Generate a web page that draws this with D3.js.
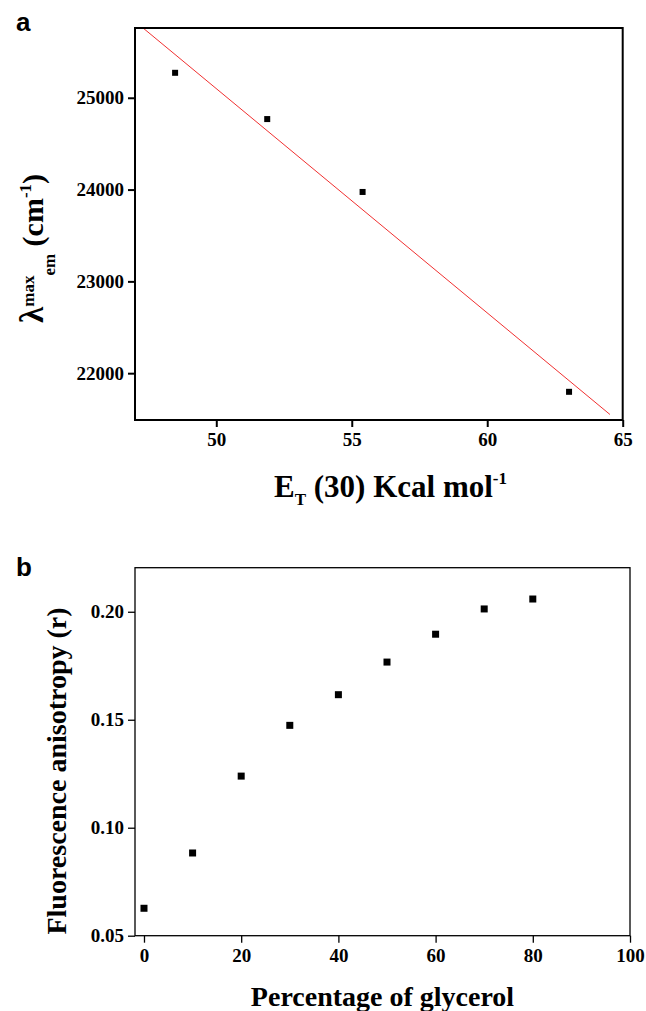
<!DOCTYPE html>
<html>
<head>
<meta charset="utf-8">
<script src="https://cdnjs.cloudflare.com/ajax/libs/d3/7.8.5/d3.min.js"></script>
<style>
  body { margin: 0; background: #fff; }
  svg text { font-family: "Liberation Serif", "Times New Roman", serif; font-weight: bold; fill: #000; }
  svg text.panel { font-family: "Liberation Sans", Arial, sans-serif; }
</style>
</head>
<body>
<svg id="chart" width="646" height="1011"></svg>
<script>
// panel a: emission maximum vs solvent polarity
const etValues = [48.48, 51.88, 55.4, 63.02];
const emMax = [25272, 24768, 23974, 21797];
const aXTicks = [50, 55, 60, 65];
const aYTicks = [22000, 23000, 24000, 25000];
const aXDomain = [47, 65];
const aYDomain = [21490, 25760];
const fitRange = [47, 64.53];

// panel b: anisotropy vs glycerol
const glycerol = [0, 10, 20, 30, 40, 50, 60, 70, 80];
const anisotropy = [0.0627, 0.0883, 0.1239, 0.1474, 0.1616, 0.1767, 0.1896, 0.2013, 0.2059];
const bXTicks = [0, 20, 40, 60, 80, 100];
const bYTicks = [0.05, 0.10, 0.15, 0.20];
const bXDomain = [-1.85, 100];
const bYDomain = [0.05, 0.2204];

const svg = d3.select("#chart");

function framePanel(g, x, y, strokeW) {
  const [L, R] = x.range(), [B, T] = y.range();
  g.append("rect")
    .attr("x", L).attr("y", T)
    .attr("width", R - L).attr("height", B - T)
    .attr("fill", "none").attr("stroke", "#000").attr("stroke-width", strokeW);
}

function styleAxis(a, strokeW) {
  a.attr("font-family", null).attr("font-size", null);
  a.select(".domain").remove();
  a.selectAll("line").attr("stroke-width", strokeW);
  a.selectAll("text")
    .style("font-family", "'Liberation Serif', 'Times New Roman', serif")
    .style("font-weight", "bold")
    .style("font-size", "19px");
}

// ---------- panel a ----------
{
  const L = 135, R = 622.7, T = 28, B = 420;
  const x = d3.scaleLinear().domain(aXDomain).range([L, R]);
  const y = d3.scaleLinear().domain(aYDomain).range([B, T]);
  const g = svg.append("g");

  // least squares fit line
  const mx = d3.mean(etValues), my = d3.mean(emMax);
  const sxy = d3.sum(etValues, (v, i) => (v - mx) * (emMax[i] - my));
  const sxx = d3.sum(etValues, v => (v - mx) * (v - mx));
  const slope = sxy / sxx, icpt = my - slope * mx;

  g.append("clipPath").attr("id", "clipA").append("rect")
    .attr("x", L).attr("y", T).attr("width", R - L).attr("height", B - T);
  g.append("line")
    .attr("clip-path", "url(#clipA)")
    .attr("x1", x(fitRange[0])).attr("y1", y(slope * fitRange[0] + icpt))
    .attr("x2", x(fitRange[1])).attr("y2", y(slope * fitRange[1] + icpt))
    .attr("stroke", "#f03030").attr("stroke-width", 1);

  g.selectAll("rect.pt").data(etValues).enter().append("rect")
    .attr("class", "pt")
    .attr("x", d => x(d) - 3).attr("y", (d, i) => y(emMax[i]) - 3)
    .attr("width", 6).attr("height", 6).attr("fill", "#000");

  const xa = g.append("g").attr("transform", `translate(0,${B})`)
    .call(d3.axisBottom(x).tickValues(aXTicks).tickFormat(d3.format("d")).tickSize(7).tickPadding(6).tickSizeOuter(0));
  const ya = g.append("g").attr("transform", `translate(${L},0)`)
    .call(d3.axisLeft(y).tickValues(aYTicks).tickFormat(d3.format("d")).tickSize(7).tickPadding(4).tickSizeOuter(0));
  styleAxis(xa, 2);
  styleAxis(ya, 2);
  framePanel(g, x, y, 2);

  const xl = g.append("text").attr("x", 274).attr("y", 497).style("font-size", "31px");
  xl.append("tspan").text("E");
  xl.append("tspan").attr("dy", 8).style("font-size", "17px").text("T");
  xl.append("tspan").attr("dy", -8).text(" (30) Kcal mol");
  xl.append("tspan").attr("dy", -13).style("font-size", "17px").text("-1");

  const yl = g.append("text").attr("transform", "rotate(-90)")
    .attr("x", -323).attr("y", 43).style("font-size", "30px");
  yl.append("tspan").style("font-size", "33px").text("λ");
  yl.append("tspan").attr("dy", -9).style("font-size", "17px").text("max");
  yl.append("tspan").attr("dy", 21).style("font-size", "17px").text("em");
  yl.append("tspan").attr("dy", -12).text(" (cm");
  yl.append("tspan").attr("dy", -12).style("font-size", "17px").text("-1");
  yl.append("tspan").attr("dy", 12).text(")");

  svg.append("text").attr("class", "panel").attr("x", 16).attr("y", 31)
    .style("font-size", "26px").text("a");
}

// ---------- panel b ----------
{
  const L = 135, R = 630, T = 567.7, B = 935.7;
  const x = d3.scaleLinear().domain(bXDomain).range([L, R]);
  const y = d3.scaleLinear().domain(bYDomain).range([B, T]);
  const g = svg.append("g");

  g.selectAll("rect.pt").data(glycerol).enter().append("rect")
    .attr("class", "pt")
    .attr("x", d => x(d) - 3.5).attr("y", (d, i) => y(anisotropy[i]) - 3.5)
    .attr("width", 7).attr("height", 7).attr("fill", "#000");

  const xa = g.append("g").attr("transform", `translate(0,${B})`)
    .call(d3.axisBottom(x).tickValues(bXTicks).tickSize(7).tickPadding(6).tickSizeOuter(0));
  const ya = g.append("g").attr("transform", `translate(${L},0)`)
    .call(d3.axisLeft(y).tickValues(bYTicks).tickFormat(d3.format(".2f")).tickSize(7).tickPadding(4).tickSizeOuter(0));
  styleAxis(xa, 1.3);
  styleAxis(ya, 1.3);
  framePanel(g, x, y, 1.3);

  g.append("text").attr("x", (L + R) / 2).attr("y", 1006)
    .attr("text-anchor", "middle").style("font-size", "28px").text("Percentage of glycerol");
  g.append("text").attr("transform", "rotate(-90)")
    .attr("x", -771).attr("y", 66).attr("text-anchor", "middle")
    .style("font-size", "28px").text("Fluorescence anisotropy (r)");

  svg.append("text").attr("class", "panel").attr("x", 16).attr("y", 576)
    .style("font-size", "26px").text("b");
}
</script>
</body>
</html>
